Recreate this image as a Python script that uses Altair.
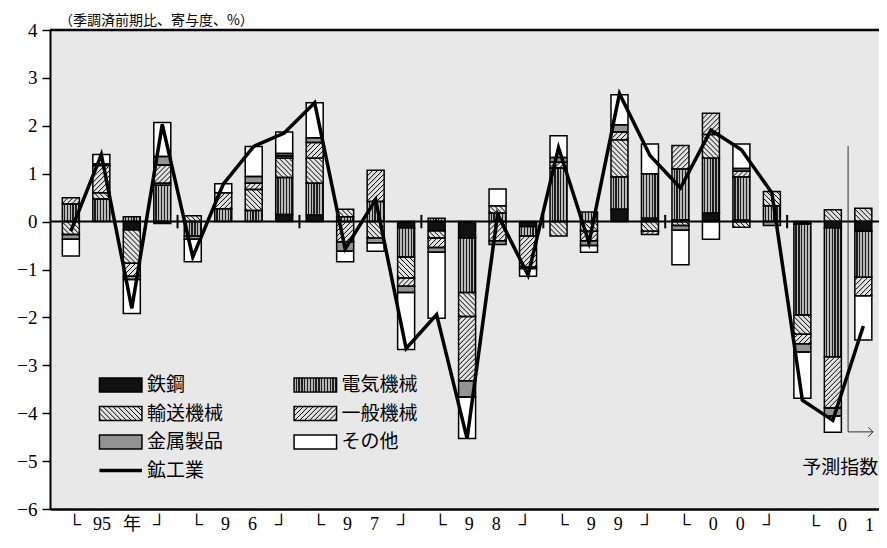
import json
import altair as alt
import pandas as pd

# ---------------- data ----------------
quarters = [f"{y}Q{q}" for y in range(1995, 2002) for q in range(1, 5)][:27]
cats = ["鉄鋼", "電気機械", "輸送機械", "一般機械", "金属製品", "その他"]

steel = [0, 0, -0.17, -0.04,
         0, 0, 0, 0.15,
         0.14, 0, 0, -0.13,
         -0.19, -0.34, 0, -0.10,
         0, 0, 0.26, 0.07,
         0.04, 0.18, 0.03, 0,
         -0.05, -0.13, -0.20]
electric = [0.37, 0.47, 0.10, 0.76,
            -0.30, 0.27, 0.23, 0.77,
            0.66, 0.10, 0.42, -0.61,
            0.07, -1.14, 0.18, -0.20,
            1.12, 0.20, 0.67, 0.93,
            1.06, 1.14, 0.90, 0.33,
            -1.90, -2.69, -0.96]
transport = [-0.27, 0.13, -0.70, 0.04,
             0.12, 0, 0.44, 0.40,
             0.52, 0.16, -0.34, -0.44,
             -0.15, -0.50, 0.15, 0,
             -0.30, -0.20, 0.78, -0.20,
             -0.08, 0.50, -0.12, 0.30,
             -0.40, 0.25, 0.28]
general = [0.13, 0.57, -0.27, 0.38,
           0, 0.33, 0.13, 0.05,
           0.33, -0.42, 0.65, -0.17,
           -0.20, -1.34, -0.40, -0.65,
           0.12, -0.20, 0.16, -0.07,
           0.49, 0.44, 0.12, 0,
           -0.20, -1.07, -0.39]
metal = [-0.10, 0.03, -0.07, 0.18,
         -0.07, 0, 0.14, 0.05,
         0.10, -0.20, -0.10, -0.13,
         -0.10, -0.34, -0.08, -0.03,
         0.10, -0.10, 0.15, 0,
         -0.10, 0, 0.06, -0.08,
         -0.17, -0.17, 0]
other = [-0.35, 0.20, -0.71, 0.71,
         -0.47, 0.19, 0.63, 0.45,
         0.73, -0.22, -0.18, -1.19,
         -1.38, -0.87, 0.35, -0.16,
         0.45, -0.14, 0.63, 0.62,
         -0.72, -0.37, 0.51, 0,
         -0.97, -0.34, -0.92]
mining_index = [-0.20, 1.40, -1.81, 2.03,
                -0.74, 0.78, 1.57, 1.85,
                2.48, -0.57, 0.46, -2.65,
                -1.94, -4.53, 0.15, -1.12,
                1.54, -0.44, 2.67, 1.38,
                0.70, 1.91, 1.50, 0.60,
                -3.73, -4.15, -2.18]

EN, EM = "\u2002\u2006", "\u2003"
year_labels = [f"└{EN}95{EN}年{EN}┘", f"└{EM}9{EM}6{EM}┘", f"└{EM}9{EM}7{EM}┘", f"└{EM}9{EM}8{EM}┘",
               f"└{EM}9{EM}9{EM}┘", f"└{EM}0{EM}0{EM}┘", f"└{EM}0{EM}1"]
legend_order = ["鉄鋼", "輸送機械", "金属製品", "鉱工業", "電気機械", "一般機械", "その他"]
line_name = "鉱工業"
title_text = "（季調済前期比、寄与度、%）"
forecast_text = "予測指数"
forecast_start = 26            # first quarter of the forecast (index)
forecast_span = [1.58, -4.39]  # vertical extent of the forecast marker

# ---------------- layout / style ----------------
PAD_L, PAD_T, PAD_B = 42, 22, 25
W_PLOT, H_PLOT = 829, 479
XMIN, XMAX = -0.52, 26.35
YMIN, YMAX = -6, 4
KX = W_PLOT / (XMAX - XMIN)
KY = H_PLOT / (YMAX - YMIN)
BW = 17          # bar width px
HATCH = 5.0      # hatch step px
LX0, LDX, LY0, LDY = 45, 197, 355, 28.5
LW, LH, LTX = 43, 14, 48
XLAB_PAD = 6
FONT_JP = "Noto Sans CJK JP"
FONT_NUM = "Liberation Serif, Noto Sans CJK JP"

fills = ["#111111", "#b0b0b0", "#e2e2e2", "#e2e2e2", "#939393", "#ffffff"]

series = [steel, electric, transport, general, metal, other]
rows = []
for ci, (cat, vals) in enumerate(zip(cats, series)):
    for qi, v in enumerate(vals):
        rows.append({"q": qi, "quarter": quarters[qi], "cat": cat, "ord": ci, "value": v})
bars_df = pd.DataFrame(rows)
line_df = pd.DataFrame({"q": list(range(len(mining_index))), "quarter": quarters, "idx": mining_index})
year_centers = [4 * k + 1.5 for k in range(len(year_labels))]
sep_df = pd.DataFrame({"sx": [4 * k - 0.5 for k in range(1, len(year_labels))]})
leg_df = pd.DataFrame({"name": legend_order, "i": list(range(len(legend_order)))})
fc_df = pd.DataFrame({"fx": [forecast_start - 0.5], "fy1": [forecast_span[0]], "fy2": [forecast_span[1]],
                      "fxe": [XMAX - 0.03], "tx": [forecast_start - 2.0], "ty": [-5.15],
                      "label": [forecast_text]})
title_df = pd.DataFrame({"t": [title_text]})
last_year_df = pd.DataFrame({"t": [year_labels[-1]]})

x_scale = alt.Scale(domain=[XMIN, XMAX], nice=False, zero=False)
y_scale = alt.Scale(domain=[YMIN, YMAX], nice=False, zero=False)
color_enc = alt.Color("cat:N", scale=alt.Scale(domain=cats, range=fills), legend=None)

label_expr = f"{json.dumps(year_labels, ensure_ascii=False)}[round((datum.value - 1.5) / 4)]"
x_axis = alt.Axis(values=year_centers[:-1], labelExpr=label_expr, ticks=False, domainWidth=2.5,
                  domainColor="black", labelFontSize=18, labelFont=FONT_NUM,
                  labelPadding=XLAB_PAD, labelColor="black", grid=False, title=None,
                  labelOverlap=False, labelBound=False, labelFlush=False, zindex=2)
y_axis = alt.Axis(values=list(range(YMIN, YMAX + 1)), tickSize=8, tickWidth=1.5, tickColor="black",
                  domainWidth=2, domainColor="black", labelFontSize=19, labelFont="Liberation Serif",
                  labelPadding=5, labelColor="black", grid=False, title=None, zindex=2)


def X(f):
    return alt.X(f"{f}:Q", scale=x_scale, axis=x_axis)


def Y(f):
    return alt.Y(f"{f}:Q", scale=y_scale, axis=y_axis)


def stripe_gradient(n, dark="#1c1c1c", light="#b8b8b8", frac=0.45):
    stops = []
    for k in range(n):
        a, m, c = k / n, (k + 1 - frac) / n, (k + 1) / n
        stops += [alt.GradientStop(offset=a, color=light), alt.GradientStop(offset=m, color=light),
                  alt.GradientStop(offset=m, color=dark), alt.GradientStop(offset=c, color=dark)]
    return alt.LinearGradient(gradient="linear", stops=stops, x1=0, x2=1, y1=0, y2=0)


def hatch(ch):
    return (ch.transform_calculate(H=f"(datum.ytop - datum.ybot) * {KY}")
            .transform_calculate(n=f"ceil((datum.ww + datum.H) / {HATCH})")
            .transform_calculate(ks="sequence(0, datum.n)")
            .transform_flatten(["ks"], as_=["k"])
            .transform_calculate(back="datum.cat == '輸送機械'")
            .transform_calculate(cc=f"datum.back ? (datum.k + 0.5) * {HATCH} : (datum.k + 0.5) * {HATCH} - datum.ww")
            .transform_calculate(xa="datum.back ? max(0, datum.cc - datum.H) : max(0, -datum.cc)")
            .transform_calculate(xb="datum.back ? min(datum.ww, datum.cc) : min(datum.ww, datum.H - datum.cc)")
            .transform_filter("datum.xb > datum.xa + 0.3")
            .transform_calculate(ya="datum.back ? datum.cc - datum.xa : datum.cc + datum.xa")
            .transform_calculate(yz="datum.back ? datum.cc - datum.xb : datum.cc + datum.xb")
            .transform_calculate(hx1=f"datum.xl + datum.xa / {KX}", hx2=f"datum.xl + datum.xb / {KX}",
                                 hy1=f"datum.ybot + datum.ya / {KY}", hy2=f"datum.ybot + datum.yz / {KY}")
            .mark_rule(color="black", strokeWidth=1)
            .encode(x=X("hx1"), x2="hx2:Q", y=Y("hy1"), y2="hy2:Q"))


stacked = (alt.Chart(bars_df)
           .transform_filter("datum.value != 0")
           .transform_stack(stack="value", groupby=["q"], as_=["v0", "v1"],
                            sort=[alt.SortField("ord", order="ascending")], offset="zero"))

bar_fill = stacked.mark_bar(size=BW).encode(x=X("q"), y=Y("v0"), y2="v1:Q", color=color_enc)

bar_stripes = (stacked.transform_filter("datum.cat == '電気機械'")
               .mark_bar(size=BW, fill=stripe_gradient(6))
               .encode(x=X("q"), y=Y("v0"), y2="v1:Q"))

bar_hatch = hatch(stacked.transform_filter("datum.cat == '輸送機械' || datum.cat == '一般機械'")
                  .transform_calculate(xl=f"datum.q - {BW / 2} / {KX}", ww=f"{BW}",
                                       ybot="min(datum.v0, datum.v1)", ytop="max(datum.v0, datum.v1)"))

bar_outline = stacked.mark_bar(size=BW, filled=False, stroke="black", strokeWidth=1.5).encode(
    x=X("q"), y=Y("v0"), y2="v1:Q")

zero_rule = (alt.Chart(line_df).transform_filter("datum.q == 0").transform_calculate(z="0")
             .mark_rule(color="black", strokeWidth=2).encode(y=Y("z")))

seps = (alt.Chart(sep_df).transform_calculate(s1="-0.14", s2="0.14")
        .mark_rule(color="black", strokeWidth=2).encode(x=X("sx"), y=Y("s1"), y2="s2:Q"))

fc_v = alt.Chart(fc_df).mark_rule(color="#333333", strokeWidth=1).encode(x=X("fx"), y=Y("fy1"), y2="fy2:Q")
fc_h = alt.Chart(fc_df).mark_rule(color="#333333", strokeWidth=1).encode(x=X("fx"), x2="fxe:Q", y=Y("fy2"))
fc_arrow = alt.Chart(fc_df).mark_point(shape="M-1,-1L0,0L-1,1", filled=False, color="#333333",
                                       strokeWidth=1, size=90, opacity=1).encode(x=X("fxe"), y=Y("fy2"))
fc_text = alt.Chart(fc_df).mark_text(align="left", baseline="middle", fontSize=19,
                                     font=FONT_JP, color="black").encode(
    x=X("tx"), y=Y("ty"), text="label:N")

line = alt.Chart(line_df).mark_line(color="black", strokeWidth=3.5, strokeJoin="miter").encode(
    x=X("q"), y=Y("idx"))

top_border = (alt.Chart(sep_df).transform_filter("datum.sx < 4").transform_calculate(t=f"{YMAX}")
              .mark_rule(color="black", strokeWidth=2.5).encode(y=Y("t")))

title_mark = (alt.Chart(title_df)
              .transform_calculate(tx=f"{XMIN} + 4 / {KX}", ty=f"{YMAX} + 2 / {KY}")
              .mark_text(align="left", baseline="bottom", fontSize=14, font=FONT_JP, color="black")
              .encode(x=X("tx"), y=Y("ty"), text="t:N"))

last_year = (alt.Chart(last_year_df)
             .transform_calculate(tx=f"{XMAX}", ty=f"{YMIN} - ({XLAB_PAD} + 1.5) / {KY}")
             .mark_text(align="right", baseline="top", fontSize=18, font=FONT_NUM, color="black")
             .encode(x=X("tx"), y=Y("ty"), text="t:N"))

leg = (alt.Chart(leg_df)
       .transform_calculate(col="floor(datum.i / 4)", row="datum.i % 4", cat="datum.name")
       .transform_calculate(xl=f"{XMIN} + ({LX0} + datum.col * {LDX}) / {KX}",
                            yc=f"{YMAX} - ({LY0} + datum.row * {LDY}) / {KY}")
       .transform_calculate(xr=f"datum.xl + {LW} / {KX}", xt=f"datum.xl + {LTX} / {KX}",
                            ybot=f"datum.yc - {LH / 2} / {KY}", ytop=f"datum.yc + {LH / 2} / {KY}",
                            ww=f"{LW}"))
leg_box = leg.transform_filter(f"datum.name != '{line_name}'")
leg_fill = leg_box.mark_rect().encode(x=X("xl"), x2="xr:Q", y=Y("ybot"), y2="ytop:Q", color=color_enc)
leg_stripes = (leg_box.transform_filter("datum.cat == '電気機械'")
               .mark_rect(fill=stripe_gradient(15))
               .encode(x=X("xl"), x2="xr:Q", y=Y("ybot"), y2="ytop:Q"))
leg_hatch = hatch(leg_box.transform_filter("datum.cat == '輸送機械' || datum.cat == '一般機械'"))
leg_outline = leg_box.mark_rect(filled=False, stroke="black", strokeWidth=1.5).encode(
    x=X("xl"), x2="xr:Q", y=Y("ybot"), y2="ytop:Q")
leg_line = (leg.transform_filter(f"datum.name == '{line_name}'")
            .mark_rule(color="black", strokeWidth=3.5)
            .encode(x=X("xl"), x2="xr:Q", y=Y("yc")))
leg_text = leg.mark_text(align="left", baseline="middle", fontSize=19, font=FONT_JP,
                         color="black").encode(x=X("xt"), y=Y("yc"), text="name:N")

chart = alt.layer(
    bar_fill, bar_stripes, bar_hatch, bar_outline, zero_rule, seps,
    fc_v, fc_h, fc_arrow, fc_text, line, top_border, title_mark, last_year,
    leg_fill, leg_stripes, leg_hatch, leg_outline, leg_line, leg_text,
).properties(
    width=W_PLOT, height=H_PLOT,
    padding={"left": PAD_L, "top": PAD_T, "right": 0, "bottom": PAD_B},
    autosize=alt.AutoSizeParams(type="none"),
).configure_view(stroke=None, fill="#e8e8e8")

chart.save("out.html", embed_options={"renderer": "svg", "actions": False})
